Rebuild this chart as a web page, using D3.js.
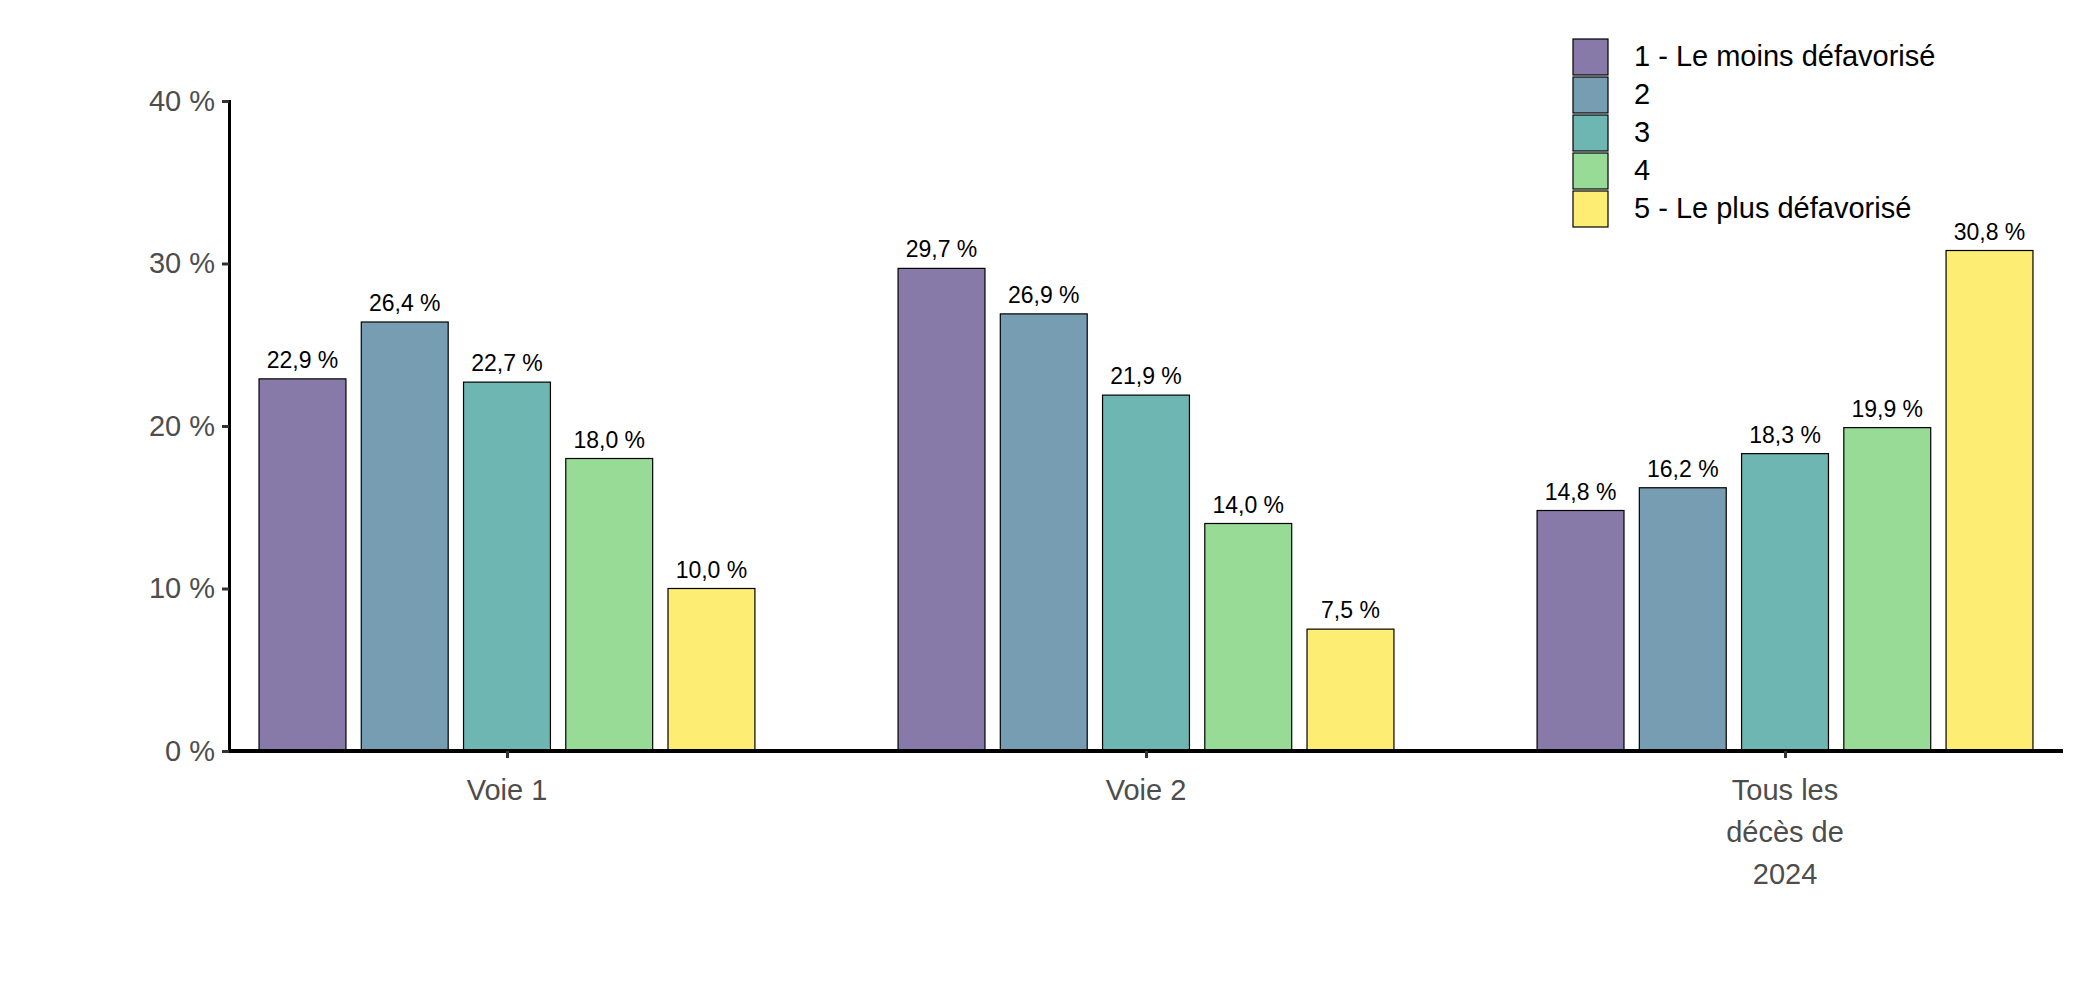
<!DOCTYPE html>
<html>
<head>
<meta charset="utf-8">
<script src="https://cdn.jsdelivr.net/npm/d3@7"></script>
<style>
  body { margin: 0; background: #fff; }
  text { font-family: "Liberation Sans", Arial, sans-serif; }
</style>
</head>
<body>
<div id="chart"></div>
<script>
// données
const categories = [['Voie 1'], ['Voie 2'], ['Tous les', 'décès de', '2024']];
const series = ['1 - Le moins défavorisé', '2', '3', '4', '5 - Le plus défavorisé'];
const values = [
  [22.9, 26.4, 22.7, 18.0, 10.0],
  [29.7, 26.9, 21.9, 14.0, 7.5],
  [14.8, 16.2, 18.3, 19.9, 30.8]
];
const yTicks = [0, 10, 20, 30, 40];
const colors = ['#8779a8', '#779db3', '#6db6b1', '#97db96', '#fdee73'];

const svgWidth = 2078;
const svgHeight = 1007;
const svg = d3.select('#chart')
  .append('svg')
  .attr('width', svgWidth)
  .attr('height', svgHeight);

const plotLeft = 229, plotRight = 2063, plotTop = 101, plotBottom = 751;

const x = d3.scaleLinear().domain([0.565, 3.435]).range([plotLeft, plotRight]);
const unit = x(2) - x(1);
const inner = d3.scaleBand().domain(d3.range(series.length))
  .range([-0.4 * unit, 0.4 * unit]).paddingInner(0.15).paddingOuter(0.075);
const y = d3.scaleLinear().domain([0, 40]).range([plotBottom, plotTop]);

const fmt = v => d3.format('.1f')(v).replace('.', ',') + ' %';

// barres
const groups = svg.selectAll('g.grp')
  .data(values)
  .join('g')
  .attr('class', 'grp')
  .attr('transform', (d, i) => `translate(${x(i + 1)},0)`);

groups.selectAll('rect')
  .data(d => d)
  .join('rect')
  .attr('x', (d, j) => inner(j))
  .attr('width', inner.bandwidth())
  .attr('y', d => y(d))
  .attr('height', d => y(0) - y(d))
  .attr('fill', (d, j) => colors[j])
  .attr('stroke', '#000')
  .attr('stroke-width', 1.2);

groups.selectAll('text.lbl')
  .data(d => d)
  .join('text')
  .attr('class', 'lbl')
  .attr('x', (d, j) => inner(j) + inner.bandwidth() / 2)
  .attr('y', d => y(d) - 11)
  .attr('text-anchor', 'middle')
  .attr('font-size', 23)
  .text(d => fmt(d));

// axe y
const yAxis = svg.append('g')
  .attr('transform', `translate(${plotLeft},0)`)
  .call(d3.axisLeft(y).tickValues(yTicks).tickSize(7).tickFormat(d => d + ' %'));
yAxis.select('.domain').attr('stroke-width', 3);
yAxis.selectAll('line').attr('stroke-width', 3).attr('stroke', '#333');
yAxis.selectAll('text').attr('font-size', 29).attr('fill', '#4d4d4d')
  .attr('font-family', '"Liberation Sans", Arial, sans-serif').attr('dx', -4);

// axe x
const xAxis = svg.append('g')
  .attr('transform', `translate(0,${plotBottom})`)
  .call(d3.axisBottom(x).tickValues([1, 2, 3]).tickSize(7).tickFormat(''));
xAxis.select('.domain').attr('stroke-width', 4).attr('d', `M${plotLeft},0H${plotRight}`);
xAxis.selectAll('line').attr('stroke-width', 3).attr('stroke', '#333');

svg.selectAll('text.cat')
  .data(categories)
  .join('text')
  .attr('class', 'cat')
  .attr('text-anchor', 'middle')
  .attr('font-size', 29)
  .attr('fill', '#4d4d4d')
  .each(function (d, i) {
    d3.select(this).selectAll('tspan')
      .data(d)
      .join('tspan')
      .attr('x', x(i + 1))
      .attr('y', (t, k) => plotBottom + 49 + k * 42)
      .text(t => t);
  });

// légende
const legend = svg.append('g').attr('transform', 'translate(1573,39)');
legend.selectAll('rect')
  .data(series)
  .join('rect')
  .attr('x', 0)
  .attr('y', (d, i) => i * 38)
  .attr('width', 35)
  .attr('height', 36)
  .attr('fill', (d, i) => colors[i])
  .attr('stroke', '#000')
  .attr('stroke-width', 1.2);
legend.selectAll('text')
  .data(series)
  .join('text')
  .attr('x', 61)
  .attr('y', (d, i) => i * 38 + 27)
  .attr('font-size', 29)
  .text(d => d);
</script>
</body>
</html>
